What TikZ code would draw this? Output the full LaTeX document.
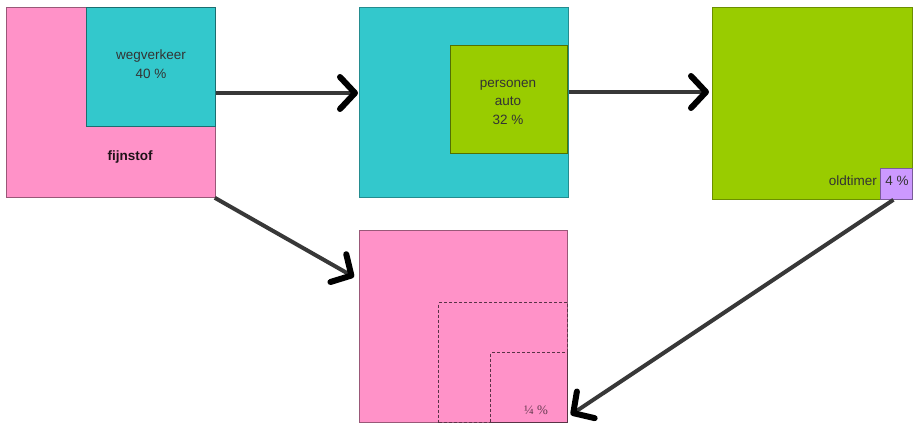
\documentclass[tikz,border=0pt]{standalone}
\usepackage{fontspec}
\setmainfont{Liberation Sans}
\newfontfamily\serifx{Liberation Serif}
\usetikzlibrary{arrows.meta,calc}
\definecolor{pinkf}{HTML}{FF92C8}
\definecolor{cyanf}{HTML}{33C8CC}
\definecolor{greenf}{HTML}{99CC00}
\definecolor{purplef}{HTML}{CC99FF}
\definecolor{txt}{HTML}{333333}
\tikzset{
  box/.style={draw=#1, line width=0.8pt, inner sep=0pt, anchor=north west},
  lbl/.style={font=\fontsize{13.5}{18.5}\selectfont, text=txt, align=center, inner sep=0pt},
  arr/.style={draw=black!78, line width=4pt, -{Straight Barb[length=15pt,width=32pt,line width=6pt,color=black,round]}},
  dbox/.style={draw=black!65!pinkf, densely dashed, line width=1pt, inner sep=0pt, anchor=north west}
}
\begin{document}
\begin{tikzpicture}[x=1pt,y=-1pt]
\useasboundingbox (0,0) rectangle (914,423);
% box 1
\node[box=black!40!pinkf, fill=pinkf, minimum width=209pt, minimum height=190pt] (fine) at (6,7) {};
\node[box=black!45!cyanf, fill=cyanf, minimum width=129pt, minimum height=119pt] (weg) at (86,7) {};
\node[lbl] (wegt) at (151,64) {wegverkeer\\40 \%};
\node[lbl, font=\bfseries\fontsize{13.5}{18}\selectfont, text=black!70!pinkf!40!black] (fijn) at (130,157) {fijnstof};
% box 2
\node[box=black!30!cyanf, fill=cyanf, minimum width=209pt, minimum height=190pt] (road) at (359,7) {};
\node[box=black!45!greenf, fill=greenf, minimum width=117pt, minimum height=108pt] (car) at (450,45) {};
\node[lbl] (cart) at (508,102) {personen\\auto\\32 \%};
% box 3
\node[box=black!30!greenf, fill=greenf, minimum width=200pt, minimum height=192pt] (cars) at (712,7) {};
\node[box=black!40!purplef, fill=purplef, minimum width=32pt, minimum height=31pt] (old) at (880,168) {};
\node[lbl, anchor=east] (oldt) at (877,181) {oldtimer};
\node[lbl] (oldp) at (897,181) {4 \%};
% box 4
\node[box=black!40!pinkf, fill=pinkf, minimum width=208pt, minimum height=192pt] (total) at (359,230) {};
\node[dbox, minimum width=129pt, minimum height=120pt] (part) at (438,302) {};
\node[dbox, minimum width=77pt, minimum height=70pt] (small) at (490,352) {};
\node[inner sep=0pt, font=\serifx\fontsize{13}{15}\selectfont, text=black!60!pinkf] (quart) at (536,410) {¼ \%};
% arrows
\draw[arr] ($(fine.north east)+(0,86)$) -- ($(road.north west)+(-1,86)$);
\draw[arr] ($(road.north east)+(0,85)$) -- ($(cars.north west)+(-3,85)$);
\draw[arr] ($(fine.south east)+(-1,0)$) -- ($(total.north west)+(-5,47)$);
\draw[arr] ($(old.south)+(-3,0)$) -- ($(total.south east)+(3,-8)$);
\end{tikzpicture}
\end{document}
